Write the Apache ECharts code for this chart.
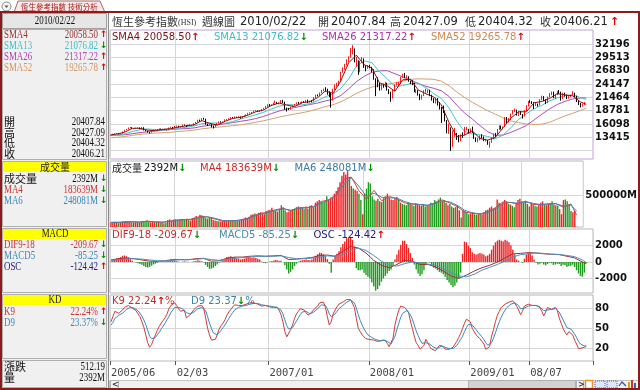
<!DOCTYPE html>
<html><head><meta charset="utf-8">
<script src="https://cdn.jsdelivr.net/npm/echarts@6/dist/echarts.min.js"></script>
<style>html,body{margin:0;padding:0;background:#fff}#c{width:640px;height:390px}</style>
</head><body><div id="c"></div>
<script>
// ---------- axis / tick data ----------
const slotCount = 250;
const labelIdx = [0,34,82,134,186,217];
const labelText = ['2005/06','02/03','2007/01','2008/01','2009/01','08/07'];
const priceTicks = [10732,13415,16098,18781,21464,24147,26830,29513,32196];
const priceLabels = [13415,16098,18781,21464,24147,26830,29513,32196];
const volTicks = [500000];
const macdTicks = [-2000,0,2000];
const kdTicks = [20,50,80];

// ---------- weekly candles (2005/06 .. 2010/02/22) ----------
const opens = [13800,13900,14090,14170,14200,14040,14180,14550,14880,15040,
15300,15420,15120,15200,15300,15350,15100,15430,14850,14700,
14440,14390,14700,14900,14960,14920,15150,14950,15080,14940,
14880,15350,15450,15200,15650,15700,15400,15550,15900,15830,
15600,15900,15800,15800,16200,16400,16900,16650,17150,17100,
16000,15900,15950,15650,15500,16000,16270,16550,16500,16500,
16970,17000,17150,17400,17300,17500,17400,17600,17250,17550,
17700,18000,18300,18300,18400,18750,18800,18700,18700,19050,
19200,19600,19960,19800,19950,20300,20450,20200,20300,20750,
20500,19250,19100,19000,19500,19800,20050,20400,20300,20300,
20500,20450,20700,20550,20700,20650,21400,21800,21770,22350,
22800,23050,22800,22550,22400,21000,23100,23980,24000,24700,
26500,27150,28000,28900,29500,31000,31200,28800,28800,26550,
28650,29300,27600,27300,27800,27500,26900,25200,24900,24350,
23100,24000,23800,24300,23000,22500,21300,22900,24000,24200,
24200,25500,26000,25600,25600,24700,24500,24400,22600,22700,
22100,21400,21850,22700,22750,22800,21900,21150,20400,21260,
19900,19350,19300,18700,16800,14800,15300,12600,13970,14250,
13500,12650,13900,13850,15050,15130,14330,15040,14380,13250,
12580,13280,13650,13550,12700,12810,12300,12500,13100,14100,
14000,15000,15600,15260,15520,17400,16500,17000,18170,18800,
18900,17900,18600,18000,17700,18800,19700,20600,20500,20400,
19950,20100,19800,21000,21600,20800,20380,21500,22200,22590,
21750,22000,22500,22450,21130,22320,21900,21250,21620,21870,
22300,21650,20730,20120,19670,20000,20408];
const closes = [13900,14090,14170,14200,14040,14180,14550,14880,15040,15300,
15420,15120,15200,15300,15350,15100,15430,14850,14700,14440,
14390,14700,14900,14960,14920,15150,14950,15080,14940,14880,
15350,15450,15200,15650,15700,15400,15550,15900,15830,15600,
15900,15800,15800,16200,16400,16900,16650,17150,17100,16000,
15900,15950,15650,15500,16000,16270,16550,16500,16500,16970,
17000,17150,17400,17300,17500,17400,17600,17250,17550,17700,
18000,18300,18300,18400,18750,18800,18700,18700,19050,19200,
19600,19960,19800,19950,20300,20450,20200,20300,20750,20500,
19250,19100,19000,19500,19800,20050,20400,20300,20300,20500,
20450,20700,20550,20700,20650,21400,21800,21770,22350,22800,
23050,22800,22550,22400,21000,23100,23980,24000,24700,26500,
27150,28000,28900,29500,31000,31200,28800,28800,26550,28650,
29300,27600,27300,27800,27500,26900,25200,24900,24350,23100,
24000,23800,24300,23000,22500,21300,22900,24000,24200,24200,
25500,26000,25600,25600,24700,24500,24400,22600,22700,22100,
21400,21850,22700,22750,22800,21900,21150,20400,21260,19900,
19350,19300,18700,16800,14800,15300,12600,13970,14250,13500,
12650,13900,13850,15050,15130,14330,15040,14380,13250,12580,
13280,13650,13550,12700,12810,12300,12500,13100,14100,14000,
15000,15600,15260,15520,17400,16500,17000,18170,18800,18900,
17900,18600,18000,17700,18800,19700,20600,20500,20400,19950,
20100,19800,21000,21600,20800,20380,21500,22200,22590,21750,
22000,22500,22450,21130,22320,21900,21250,21620,21870,22300,
21650,20730,20120,19670,20000,20400,20406];
const lows = [13730,13860,14020,14080,13970,13990,14150,14500,14820,15000,
15250,15060,15050,15150,15220,15050,15080,14800,14600,14350,
14190,14350,14650,14850,14830,14900,14900,14900,14880,14820,
14860,15300,15100,15180,15550,15350,15380,15520,15750,15500,
15580,15720,15700,15780,16150,16380,16550,16620,16950,15950,
15700,15750,15400,15200,15480,15950,16200,16400,16350,16480,
16850,16950,17100,17200,17280,17300,17380,17150,17230,17500,
17650,17950,18200,18250,18380,18650,18550,18500,18650,19000,
19150,19550,19650,19700,19900,20200,20100,20050,20250,20300,
18950,18600,18900,18950,19450,19750,20000,20150,20150,20250,
20350,20400,20300,20400,20450,20600,21350,21650,21700,22300,
22700,22600,22000,21500,19400,20800,22900,23600,23800,24650,
26400,27000,27900,28500,29400,30100,28500,27600,26000,26500,
28400,27400,26700,27200,27300,26500,25000,21700,23500,22800,
22900,23400,23500,22800,22100,20570,21200,22700,23800,23700,
24100,25400,25300,25200,24600,24100,23900,22500,22300,21800,
20900,21000,21700,22400,22300,21700,20800,20300,20200,19800,
19000,16300,18300,16600,14200,14100,10680,11500,13500,12900,
12400,12600,13300,13800,14800,14200,14300,14300,13100,12500,
12400,12800,13200,12650,12600,11900,11340,12300,13000,13400,
13900,14900,15000,15000,15500,16300,16400,16900,18000,18500,
17800,17700,17900,17200,17600,18700,19600,20300,20100,19100,
19700,19600,19800,20900,20700,20100,20300,21400,21900,21300,
21100,21900,22100,20800,21100,21600,21100,21200,21550,21800,
21500,20500,19900,19420,19600,19900,20404];
const highs = [13950,14130,14250,14260,14250,14230,14600,14920,15120,15380,
15470,15440,15260,15370,15420,15380,15480,15450,14900,14750,
14500,14750,14950,15050,15000,15200,15180,15130,15100,14990,
15380,15550,15500,15700,15800,15750,15620,15950,16000,15870,
15950,15980,15870,16250,16500,16950,16980,17250,17330,17150,
16150,16100,16050,15750,16100,16320,16600,16650,16600,17030,
17100,17250,17450,17480,17600,17560,17650,17620,17600,17780,
18050,18350,18450,18500,18800,18900,18850,18800,19100,19350,
19700,20050,20100,20050,20400,20800,20550,20400,20900,20950,
20600,19400,19350,19600,19900,20150,20450,20550,20500,20650,
20700,20900,21000,20800,20900,21500,22000,22050,22450,22950,
23200,23500,23200,22700,22450,23200,24050,24400,24800,26600,
27500,28200,29100,29700,31400,31960,31300,29600,28900,28800,
29550,29300,27900,27950,28000,27600,27100,25300,25500,24400,
24200,24200,24600,24400,23100,22600,23000,24100,24500,24600,
25600,26200,26380,25900,25700,24800,24900,24400,23100,22900,
22200,22000,22900,23200,23000,23000,22000,21300,21400,21300,
20500,19500,19800,18800,16900,16200,15400,14800,15300,14300,
13900,14000,14400,15500,15500,15100,15200,15560,14400,13400,
13300,13800,14000,13600,13100,12900,12600,13400,14200,14300,
15100,15800,15800,15600,17500,17500,17300,18200,18900,19200,
19000,18700,18700,18100,18900,19900,20700,20900,20700,20500,
20400,20200,21100,21800,21700,21100,21600,22300,22620,22600,
22100,22700,22940,22600,22400,22400,22000,21700,21950,22700,
22400,21800,20900,20300,20200,20500,20427];

// ---------- moving averages (sampled every 4 weeks) ----------
const smaIdx = [0,3,7,11,15,19,23,27,31,35,39,43,47,51,55,59,63,67,71,75,79,83,87,91,95,99,103,107,111,115,119,123,127,131,135,139,143,147,151,155,159,163,167,171,175,179,183,187,191,195,199,203,207,211,215,219,223,227,231,235,239,243,246];
const sma4 = [13900,14090,14410,15220,15240,14860,14740,15030,15160,15490,15720,15930,16780,16240,15860,16630,17210,17440,17890,18560,18910,19830,20310,19900,19590,20380,20600,21410,22750,22260,24800,28390,29950,28030,27380,24390,23780,22680,24980,25100,22950,22180,21560,19950,16400,13580,13860,14720,13190,12840,13430,15350,17270,18550,18550,20360,20630,21220,22210,21950,21760,20540,20058];
const sma13 = [13780,13850,14080,14570,14960,15100,14940,14870,14970,15220,15450,15710,16140,16310,16290,16240,16570,17090,17510,17960,18450,19100,19680,20010,19930,19950,20190,20790,21590,22140,23270,25150,27710,28790,28450,26600,25180,23610,23810,24250,24340,23410,22230,21230,19310,16640,14610,14050,13920,13580,13150,13870,15350,17050,18120,19150,19850,20740,21350,21790,21970,21420,21077];
const sma26 = [13820,13840,13920,14140,14360,14530,14680,14850,14990,15090,15170,15300,15610,15820,15940,16140,16380,16630,16870,17190,17630,18180,18700,19100,19390,19720,20010,20320,20730,21070,21840,23140,24590,25670,26490,26780,26820,26210,25570,24970,24240,23670,23280,22780,21640,19870,18310,17100,15770,14550,13820,13870,14420,15070,15780,16910,18060,19120,20020,20640,21140,21310,21317];
const sma52 = [13350,13400,13570,13810,14010,14140,14270,14350,14430,14570,14710,14870,15110,15300,15430,15600,15760,15930,16160,16450,16750,17110,17480,17810,18090,18360,18700,19130,19600,19990,20550,21360,22240,22940,23520,23830,24130,24370,24720,25070,25190,25140,25090,24710,23790,22530,21440,20470,19610,18770,18060,17320,16710,16370,16100,16000,16060,16430,17090,17710,18250,18820,19266];

// ---------- weekly volume (M) ----------
const volumes = [70000,65000,80000,75000,60000,70000,85000,90000,95000,85000,80000,75000,70000,
75000,80000,70000,85000,95000,90000,100000,85000,75000,80000,75000,70000,80000,70000,75000,60000,65000,
110000,120000,100000,115000,120000,110000,105000,125000,120000,110000,130000,115000,100000,140000,150000,170000,150000,190000,
185000,170000,140000,130000,150000,140000,110000,100000,95000,
90000,85000,95000,100000,90000,95000,105000,110000,100000,105000,100000,95000,120000,130000,150000,140000,
160000,190000,200000,210000,195000,220000,230000,210000,200000,
250000,260000,270000,300000,260000,250000,240000,280000,340000,310000,260000,230000,240000,
260000,280000,290000,310000,320000,300000,310000,280000,320000,290000,330000,340000,310000,
380000,400000,420000,390000,380000,400000,480000,430000,460000,470000,520000,560000,
620000,700000,800000,860000,820000,870000,780000,
640000,600000,580000,560000,520000,420000,200000,
520000,600000,700000,680000,
480000,430000,410000,440000,400000,390000,450000,480000,520000,460000,430000,420000,440000,
470000,420000,380000,360000,350000,340000,380000,360000,350000,330000,370000,360000,340000,
330000,360000,320000,330000,340000,380000,360000,420000,400000,430000,
460000,400000,420000,380000,340000,360000,320000,300000,310000,340000,260000,150000,
260000,250000,220000,200000,210000,230000,200000,190000,200000,210000,200000,230000,260000,270000,300000,320000,280000,300000,
430000,380000,360000,390000,420000,400000,360000,350000,330000,310000,380000,420000,
440000,400000,380000,400000,360000,320000,380000,350000,330000,320000,360000,
380000,400000,350000,340000,360000,370000,400000,350000,340000,330000,280000,200000,420000,430000,
400000,354000,250000,230000,252000,2392];
const volMa4 = [72000,72500,76000,84000,74000,92500,79000,74000,89000,111000,115000,121000,165000,156000,125000,91000,97500,104000,124000,172500,214000,230000,270000,292500,247500,300000,302500,317500,397500,422500,502500,745000,777500,565000,435000,572500,410000,477500,440000,377500,357500,350000,335000,375000,422500,375000,317500,230000,215000,200000,240000,300000,390000,382500,360000,405000,352500,347500,362500,365000,307500,358500,183639];
const volMa6 = [72000,72300,74800,81300,77300,86300,83500,75700,84000,103700,113700,119000,150300,159000,135300,102300,95300,101800,117300,156300,200200,224700,256700,285000,262500,282500,301700,312500,370800,414200,475800,664200,766700,635800,478000,527000,464200,455000,452500,398300,364200,352500,340000,361700,406700,390800,336700,259200,220000,205000,226700,280000,360000,385000,367500,390000,370000,349200,357500,364200,326700,341500,248081];

// ---------- MACD ----------
const osc = [100,200,350,450,500,600,750,800,700,550,350,150,0,
-50,-150,-250,-350,-500,-600,-670,-600,-450,-300,-200,-100,
0,50,100,50,150,250,300,200,150,
100,50,0,50,80,50,30,0,20,80,120,200,150,100,
-50,-350,-600,-840,-800,-700,-500,-300,-100,
100,200,400,600,650,700,600,550,450,400,300,350,400,500,600,550,500,550,500,400,300,50,
-100,-150,-50,
50,100,150,250,200,150,150,
0,-400,-900,-1400,-1200,-900,-500,-200,
50,150,200,250,300,250,200,
300,500,750,950,1130,1100,950,700,350,
-200,-1300,
300,800,1000,1300,1800,2200,2500,2900,3000,3000,2700,1900,
-750,-1000,-1000,-900,-1300,-1600,-1800,-2000,-2500,-3000,-3500,-3300,-2900,-2400,-2000,-1700,-1400,-1100,-900,-500,
300,900,1500,2100,2600,2600,2200,1700,1100,500,
-300,-900,-1400,-1700,-1500,-1000,-400,
0,-100,
-400,-700,-800,-1000,-1200,-1300,-1500,-1800,-2200,-2500,-2800,-3060,-2900,-2500,-2000,-1300,
1000,2480,2400,2000,1700,1200,1000,900,1000,1100,1000,900,700,
800,1000,1500,2000,2400,2600,2700,2600,2500,2700,2600,2400,2000,1500,900,
300,150,0,-100,
400,900,1100,1100,800,300,
-100,-300,-200,-100,-300,-400,-250,-100,-150,-350,-300,-200,-250,-500,-350,-400,-600,-500,-450,-350,-600,-1000,-1400,-1700,-1800,-1300,-124];
const macdIdx = [0,4,8,12,16,20,24,28,32,36,40,44,48,52,56,60,64,68,72,76,80,84,88,92,96,100,104,108,112,116,120,124,128,132,136,140,144,148,152,156,160,164,168,172,176,180,184,188,192,196,200,204,208,212,216,220,224,228,232,236,240,244,246];
const dif = [250,400,500,400,250,100,80,150,300,300,280,400,450,100,150,450,600,600,700,750,700,750,800,300,350,450,550,800,850,700,1300,1900,1700,1100,200,-400,-700,-300,200,100,-300,-300,-600,-1100,-1700,-2000,-1600,-1100,-700,-400,0,500,1000,1050,1150,1100,1000,950,900,700,500,0,-210];
const macdLine = [200,280,380,400,350,250,150,130,220,270,280,330,420,300,200,300,450,550,600,680,700,700,750,550,400,400,480,600,750,700,900,1400,1700,1400,800,100,-400,-500,-200,0,-100,-250,-400,-800,-1300,-1700,-1800,-1500,-1000,-650,-300,100,600,900,1000,1100,1050,950,920,800,650,250,-85];

// ---------- KD ----------
const kValues = [60,68,76,75,73,74,78,82,84,85,84,81,79,77,72,68,60,52,40,28,
21,25,33,40,47,53,58,62,66,72,80,85,86,89,85,80,76,79,78,66,
68,71,75,79,82,84,83,85,81,66,50,40,32,30,33,40,49,54,58,63,
70,75,79,82,86,87,85,84,85,86,87,88,89,88,89,89,87,85,84,84,
85,84,83,82,82,83,82,78,71,60,45,37,40,48,55,65,72,76,80,82,
78,76,70,67,75,79,82,84,89,92,90,82,68,55,60,72,78,83,87,89,
90,92,94,95,94,93,82,65,50,45,40,37,34,32,33,32,32,31,30,29,
31,33,32,27,22,21,35,55,68,78,84,85,82,80,75,61,50,38,28,24,
18,16,24,33,28,22,18,17,16,20,24,26,22,18,16,18,17,21,24,30,
36,42,50,58,64,66,60,50,45,40,37,34,30,26,18,16,22,38,48,60,
70,76,82,84,87,89,90,91,92,90,84,78,71,76,84,86,87,86,85,84,
85,83,82,76,69,75,82,81,79,80,82,78,66,58,50,44,40,45,48,40,
32,26,19,18,20,21,22.24];
const dValues = [55,59,65,68,70,71,73,76,79,81,82,82,81,80,77,74,69,63,56,47,
38,34,33,36,40,44,49,53,58,63,68,74,78,82,83,82,80,80,79,74,
72,72,73,75,77,80,81,82,82,77,68,58,50,43,40,40,43,47,51,55,
60,65,70,74,78,81,82,83,84,84,85,86,87,87,88,88,88,87,86,85,
85,85,84,83,83,83,82,81,78,72,63,54,49,49,51,56,61,66,71,75,
76,76,74,72,73,75,77,80,83,86,87,85,80,72,68,69,72,76,80,83,
85,88,90,92,93,93,89,81,71,62,55,49,44,40,38,36,35,33,32,31,
31,32,32,30,28,26,29,38,48,58,67,73,76,77,77,71,64,55,46,39,
32,27,26,28,28,26,23,21,19,19,21,23,23,21,19,19,18,19,21,24,
28,33,38,45,51,56,57,55,52,48,44,41,37,33,28,24,23,28,35,43,
52,60,67,73,78,82,85,87,89,89,88,85,80,79,81,83,84,85,85,85,
85,84,83,81,77,76,78,79,79,79,80,79,75,69,63,57,51,49,49,46,
41,36,30,26,24,23,23.37];

// ---------- build ----------
const UP = '#ff1a1a', VUP = '#ee2222', VDN = '#1f9a1f';
const cats = Array.from({length: slotCount}, (_, i) => 'w' + i);
const isLabel = (i) => labelIdx.indexOf(i) >= 0;
const candleData = opens.map((o, i) => [o, closes[i], lows[i], highs[i]]);
const pairs = (idx, vals) => idx.map((x, i) => [x, vals[i]]);
const volData = volumes.map((v, i) => ({value: v, itemStyle: {color: closes[i] >= opens[i] ? VUP : VDN}}));
const oscData = osc.map(v => ({value: v, itemStyle: {color: v >= 0 ? VUP : VDN}}));

const NUMFONT = 'DejaVu Sans';
function xa(i) {
  return {type: 'category', gridIndex: i, data: cats, boundaryGap: true,
    axisLine: {show: false},
    axisTick: {show: i === 3, interval: (idx) => isLabel(idx), length: 4, lineStyle: {color: '#555'}},
    axisLabel: {show: i === 3, interval: (idx) => isLabel(idx), align: 'left', margin: 7,
      formatter: (v, idx) => { const k = labelIdx.indexOf(idx); return k >= 0 ? labelText[k] : ''; },
      color: '#444', fontFamily: 'DejaVu Sans Mono', fontSize: 10.5},
    splitLine: {show: true, interval: (idx) => isLabel(idx), lineStyle: {color: '#d6d6d6', width: 1}}};
}
function ya(i, min, max, ticks, labels, suffix) {
  return {type: 'value', gridIndex: i, position: 'right', min: min, max: max,
    axisLine: {show: false},
    axisTick: {show: false, customValues: ticks},
    axisLabel: {customValues: labels, margin: 2, color: '#111', fontWeight: 'bold', fontSize: 10, fontFamily: NUMFONT,
      formatter: (v) => String(v) + (suffix || '')},
    splitLine: {show: true, lineStyle: {color: '#d6d6d6', width: 1}}};
}
const line = (name, xi, yi, data, color, z) => ({name, type: 'line', xAxisIndex: xi, yAxisIndex: yi, data, showSymbol: false, symbol: 'none',
  lineStyle: {color, width: 1}, itemStyle: {color}, z: z || 3, silent: true, animation: false});

// ---------- graphic helpers ----------
const AU = {fill: '#e00000', font: 'bold 10px DejaVu Sans'};
const AD = {fill: '#008a00', font: 'bold 10px DejaVu Sans'};
function tx(x, y, text, fill, font, align, extra) {
  return Object.assign({type: 'text', x, y, z: 100, silent: true,
    style: {text, fill, font, textAlign: align || 'left', align: align || 'left', textVerticalAlign: 'middle', verticalAlign: 'middle'}}, extra || {});
}
function legend(x, y, text, color, arrowUp, suffix) {
  return {type: 'text', x, y, z: 100, silent: true,
    style: {text: '{t|' + text + '}' + (arrowUp ? '{u|↑}' : '{d|↓}') + (suffix ? '{t|' + suffix + '}' : ''),
      textVerticalAlign: 'middle', verticalAlign: 'middle',
      rich: {t: {fill: color, font: '10px DejaVu Sans'}, u: AU, d: AD}}};
}
const LF = '12px Liberation Serif';
const SX = {scaleX: 0.74};
function lrow(y, label, lcolor, value, vcolor, arrow) {
  const out = [tx(4, y, label, lcolor, LF, 'left', SX), tx(arrow ? 98 : 105, y, value, vcolor, LF, 'right', SX)];
  if (arrow) out.push(tx(100, y, arrow === 'u' ? '↑' : '↓', arrow === 'u' ? '#e00000' : '#008a00', 'bold 9px DejaVu Sans', 'left'));
  return out;
}
function lrowC(y, label, value) {
  return [tx(4, y, label, '#111', '11px Noto Sans CJK TC', 'left'), tx(105, y, value, '#111', LF, 'right', SX)];
}
const TF = '11.5px DejaVu Sans';
const CF = '11px Noto Sans CJK TC';

const graphics = [
  {type: 'rect', z: -10, shape: {x: 0, y: 0, width: 640, height: 390}, style: {fill: '#ffffff'}},
  {type: 'rect', z: -9, shape: {x: 0, y: 12, width: 108, height: 378}, style: {fill: '#f0f0f0'}},
  {type: 'rect', z: -8, shape: {x: 2.5, y: 13.5, width: 104, height: 15}, style: {fill: '#e6e6e6', stroke: '#a0a0a0', lineWidth: 1}},
  {type: 'rect', z: -8, shape: {x: 2.5, y: 29.5, width: 104, height: 130}, style: {fill: '#f0f0f0', stroke: '#b0b0b0', lineWidth: 1}},
  {type: 'rect', z: -8, shape: {x: 2.5, y: 161.5, width: 104, height: 65}, style: {fill: '#f0f0f0', stroke: '#b0b0b0', lineWidth: 1}},
  {type: 'rect', z: -8, shape: {x: 2.5, y: 228.5, width: 104, height: 64}, style: {fill: '#f0f0f0', stroke: '#b0b0b0', lineWidth: 1}},
  {type: 'rect', z: -8, shape: {x: 2.5, y: 294.5, width: 104, height: 64}, style: {fill: '#f0f0f0', stroke: '#b0b0b0', lineWidth: 1}},
  {type: 'rect', z: -8, shape: {x: 2.5, y: 360.5, width: 104, height: 27}, style: {fill: '#f0f0f0', stroke: '#b0b0b0', lineWidth: 1}},
  {type: 'rect', z: -7, shape: {x: 3, y: 162, width: 103, height: 10}, style: {fill: '#ffff00'}},
  {type: 'rect', z: -7, shape: {x: 3, y: 229, width: 103, height: 10}, style: {fill: '#ffff00'}},
  {type: 'rect', z: -7, shape: {x: 3, y: 295, width: 103, height: 10}, style: {fill: '#ffff00'}},
  {type: 'line', z: -7, shape: {x1: 108.5, y1: 12, x2: 108.5, y2: 390}, style: {stroke: '#8c8c8c', lineWidth: 1}},
  // top tab
  {type: 'line', z: 50, shape: {x1: 0, y1: 12.5, x2: 640, y2: 12.5}, style: {stroke: '#9a9a9a', lineWidth: 1}},
  {type: 'circle', z: 50, shape: {cx: 6.5, cy: 6.5, r: 4.5}, style: {fill: '#f4f4f4', stroke: '#888', lineWidth: 1}},
  {type: 'polygon', z: 50, shape: {points: [[4.5, 5.5], [8.5, 5.5], [6.5, 8]]}, style: {fill: '#555'}},
  {type: 'polygon', z: 50, shape: {points: [[14, 12.5], [18, 1], [100, 1], [105, 12.5]]}, style: {fill: '#fbe7e7', stroke: '#9a7070', lineWidth: 1}},
  tx(21, 6.8, '恆生參考指數 技術分析', '#a01818', '7.5px Noto Sans CJK TC', 'left'),
  // left panel texts
  tx(55, 21, '2010/02/22', '#111', LF, 'center', SX),
  ...lrow(35, 'SMA4', '#993333', '20058.50', '#993333', 'u'),
  ...lrow(46, 'SMA13', '#3cc0c8', '21076.82', '#3cc0c8', 'd'),
  ...lrow(57, 'SMA26', '#b040b0', '21317.22', '#b040b0', 'u'),
  ...lrow(68, 'SMA52', '#d49464', '19265.78', '#d49464', 'u'),
  ...lrowC(121.5, '開', '20407.84'),
  ...lrowC(132.5, '高', '20427.09'),
  ...lrowC(143.3, '低', '20404.32'),
  ...lrowC(154, '收', '20406.21'),
  tx(55, 167, '成交量', '#222', '10px Noto Sans CJK TC', 'center'),
  tx(4, 179, '成交量', '#111', CF, 'left'),
  tx(98, 179, '2392M', '#111', LF, 'right', SX),
  tx(100, 179, '↓', '#008a00', 'bold 9px DejaVu Sans', 'left'),
  ...lrow(190, 'MA4', '#cc3333', '183639M', '#cc3333', 'd'),
  ...lrow(200.5, 'MA6', '#3a88b8', '248081M', '#3a88b8', 'd'),
  tx(55, 234, 'MACD', '#222', LF, 'center', SX),
  ...lrow(245, 'DIF9-18', '#cc3333', '-209.67', '#cc3333', 'd'),
  ...lrow(256, 'MACD5', '#3a88b8', '-85.25', '#3a88b8', 'd'),
  ...lrow(266.7, 'OSC', '#202080', '-124.42', '#202080', 'u'),
  tx(55, 300, 'KD', '#222', LF, 'center', SX),
  ...lrow(311.5, 'K9', '#cc3333', '22.24%', '#cc3333', 'u'),
  ...lrow(322.5, 'D9', '#3a88b8', '23.37%', '#3a88b8', 'd'),
  ...lrowC(367.3, '漲跌', '512.19'),
  ...lrowC(377.5, '量', '2392M'),
  // title
  tx(112, 22, '恆生參考指數', '#333', CF, 'left'),
  tx(178, 22.5, '(HSI)', '#333', '8px Liberation Serif', 'left'),
  tx(202, 22, '週線圖', '#333', CF, 'left'),
  tx(240, 22, '2010/02/22', '#222', TF, 'left'),
  tx(318, 22, '開', '#333', CF, 'left'),
  tx(331, 22, '20407.84', '#222', TF, 'left'),
  tx(390, 22, '高', '#333', CF, 'left'),
  tx(403, 22, '20427.09', '#222', TF, 'left'),
  tx(465, 22, '低', '#333', CF, 'left'),
  tx(478, 22, '20404.32', '#222', TF, 'left'),
  tx(540, 22, '收', '#333', CF, 'left'),
  tx(553, 22, '20406.21', '#222', TF, 'left'),
  tx(610, 22, '↑', '#e00000', 'bold 11px DejaVu Sans', 'left'),
  // panel legends
  legend(112, 37, 'SMA4 20058.50', '#7a1010', true),
  legend(214, 37, 'SMA13 21076.82', '#3cbcc4', false),
  legend(322, 37, 'SMA26 21317.22', '#b030b0', true),
  legend(431, 37, 'SMA52 19265.78', '#d08850', true),
  tx(112, 168, '成交量', '#222', '10px Noto Sans CJK TC', 'left'),
  legend(144, 168, '2392M', '#111', false),
  legend(200, 168, 'MA4 183639M', '#cc2b2b', false),
  legend(294.5, 168, 'MA6 248081M', '#3a78a8', false),
  legend(112, 235.5, 'DIF9-18 -209.67', '#cc2b2b', false),
  legend(219, 235.5, 'MACD5 -85.25', '#4a88b0', false),
  legend(313.5, 235.5, 'OSC -124.42', '#202080', true),
  legend(112, 301.5, 'K9 22.24', '#c03030', true, '%'),
  legend(191, 301.5, 'D9 23.37', '#3a80b0', false, '%'),
  // scrollbar
  {type: 'rect', z: 50, shape: {x: 109.5, y: 380.5, width: 529, height: 8}, style: {fill: '#f0f0f0', stroke: '#c4c4c4', lineWidth: 1}},
  {type: 'rect', z: 51, shape: {x: 110.5, y: 380.5, width: 8, height: 8}, style: {fill: '#f4f4f4', stroke: '#b0b0b0', lineWidth: 1}},
  tx(112, 385, '<', '#333', 'bold 8px DejaVu Sans', 'left'),
  {type: 'rect', z: 51, shape: {x: 468.5, y: 380.5, width: 107, height: 8}, style: {fill: '#d2d2d2', stroke: '#b0b0b0', lineWidth: 1}},
  {type: 'rect', z: 51, shape: {x: 576.5, y: 380.5, width: 7, height: 8}, style: {fill: '#f4f4f4', stroke: '#b0b0b0', lineWidth: 1}},
  tx(578, 385, '>', '#333', 'bold 8px DejaVu Sans', 'left'),
  {type: 'rect', z: 51, shape: {x: 585.5, y: 380.5, width: 7, height: 8}, style: {fill: '#fff', stroke: '#f09020', lineWidth: 1.5}},
  {type: 'rect', z: 51, shape: {x: 595, y: 381, width: 10, height: 7}, style: {fill: '#dfe6ff', stroke: '#4060d0', lineWidth: 1, lineDash: [1, 1]}},
  {type: 'rect', z: 51, shape: {x: 607, y: 381, width: 10, height: 7}, style: {fill: '#dfe6ff', stroke: '#4060d0', lineWidth: 1, lineDash: [1, 1]}},
  {type: 'polyline', z: 51, shape: {points: [[619, 386], [622, 382], [626, 386]]}, style: {stroke: '#3050c0', lineWidth: 1.2}},
  {type: 'rect', z: 51, shape: {x: 628, y: 382, width: 2, height: 6}, style: {fill: '#e0a000'}},
  {type: 'rect', z: 51, shape: {x: 631, y: 380, width: 2, height: 8}, style: {fill: '#d03030'}},
  {type: 'rect', z: 51, shape: {x: 634, y: 383, width: 2, height: 5}, style: {fill: '#3060c0'}},
  // outer frame
  {type: 'rect', z: 120, shape: {x: 1, y: 12, width: 638, height: 377}, style: {fill: 'none', stroke: '#8a1c1c', lineWidth: 2}}
];

const option = {
  animation: false,
  backgroundColor: 'transparent',
  grid: [
    {left: 110, top: 30, width: 483, height: 129, show: true, borderColor: '#c8a0d8', borderWidth: 1, backgroundColor: '#fff'},
    {left: 110, top: 161, width: 483, height: 66, show: true, borderColor: '#b8b8b8', borderWidth: 1, backgroundColor: '#fff'},
    {left: 110, top: 229, width: 483, height: 64, show: true, borderColor: '#b8b8b8', borderWidth: 1, backgroundColor: '#fff'},
    {left: 110, top: 295, width: 483, height: 66, show: true, borderColor: '#b8b8b8', borderWidth: 1, backgroundColor: '#fff'}
  ],
  xAxis: [xa(0), xa(1), xa(2), xa(3)],
  yAxis: [
    ya(0, 9050, 35010, priceTicks, priceLabels),
    ya(1, 0, 1030000, volTicks, volTicks, 'M'),
    ya(2, -3780, 4025, macdTicks, macdTicks),
    ya(3, 0, 101, kdTicks, kdTicks)
  ],
  graphic: {elements: graphics},
  series: [
    line('SMA52', 0, 0, pairs(smaIdx, sma52), '#d4a070', 2),
    line('SMA26', 0, 0, pairs(smaIdx, sma26), '#a850b8', 2),
    line('SMA13', 0, 0, pairs(smaIdx, sma13), '#45c4c8', 2),
    {type: 'candlestick', xAxisIndex: 0, yAxisIndex: 0, data: candleData, barWidth: 1, z: 4, silent: true,
      itemStyle: {color: UP, color0: '#000', borderColor: UP, borderColor0: '#000', borderWidth: 1}},
    line('SMA4', 0, 0, pairs(smaIdx, sma4), '#8a1010', 5),
    {type: 'bar', xAxisIndex: 1, yAxisIndex: 1, data: volData, barWidth: 1.4, silent: true, z: 2},
    line('VMA4', 1, 1, pairs(smaIdx, volMa4), '#d04444', 3),
    line('VMA6', 1, 1, pairs(smaIdx, volMa6), '#4a80b0', 3),
    {type: 'bar', xAxisIndex: 2, yAxisIndex: 2, data: oscData, barWidth: 1.4, silent: true, z: 2},
    line('DIF', 2, 2, pairs(macdIdx, dif), '#a03030', 3),
    line('MACD', 2, 2, pairs(macdIdx, macdLine), '#5090c0', 3),
    line('K', 3, 3, kValues, '#d03a3a', 3),
    line('D', 3, 3, dValues, '#3a88c0', 3)
  ]
};
const chart = echarts.init(document.getElementById('c'), null, {renderer: 'canvas'});
chart.setOption(option);
</script></body></html>
